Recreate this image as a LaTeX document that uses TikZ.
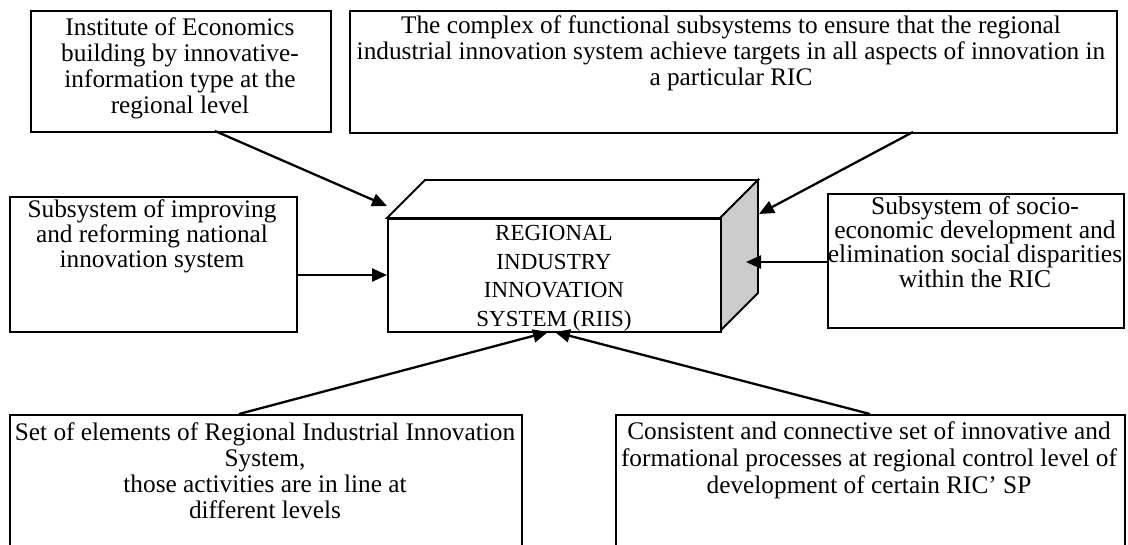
\documentclass[tikz,border=0pt]{standalone}
\usepackage{fontspec}
\setmainfont{Liberation Serif}
\usetikzlibrary{arrows.meta}
\begin{document}
\begin{tikzpicture}[x=1pt,y=-1pt,
  boxnode/.style={draw, line width=1.6pt, inner sep=0pt, anchor=north west},
  txt/.style={anchor=base, align=center, inner sep=0pt},
  conn/.style={line width=2.3pt, -{Triangle[length=15pt,width=13pt]}},
]
\useasboundingbox (0,0) rectangle (1128,544);
\fill[white] (0,0) rectangle (1128,544);
\clip (0,0) rectangle (1128,544);

% boxes
\node[boxnode, minimum width=300pt, minimum height=121pt] (b1) at (30,10) {};
\node[boxnode, minimum width=767pt, minimum height=122pt] (b2) at (349,10) {};
\node[boxnode, minimum width=287pt, minimum height=135pt] (b3) at (9,196) {};
\node[boxnode, minimum width=296pt, minimum height=134pt] (b4) at (827,193) {};
\node[boxnode, minimum width=512pt, minimum height=160pt] (b5) at (9,414) {};
\node[boxnode, minimum width=509pt, minimum height=160pt] (b6) at (615,414) {};

% texts (anchored at the baseline of their last line)
\node[txt, font=\fontsize{25.3}{26}\selectfont] (t1) at (180,113) {Institute of Economics\\building by innovative-\\information type at the\\regional level};
\node[txt, font=\fontsize{25.3}{26}\selectfont] (t2) at (731,85) {The complex of functional subsystems to ensure that the regional\\industrial innovation system achieve targets in all aspects of innovation in\\a particular RIC};
\node[txt, font=\fontsize{25.3}{25}\selectfont] (t3) at (152,267) {Subsystem of improving\\and reforming national\\innovation system};
\node[txt, font=\fontsize{25.6}{22.5}\selectfont] (t4) at (975,287) {Subsystem of socio-\\economic development and\\elimination social disparities\\within the RIC};
\node[txt, font=\fontsize{25.3}{25.7}\selectfont] (t5) at (265,518) {Set of elements of Regional Industrial Innovation\\System,\\those activities are in line at\\different levels};
\node[txt, font=\fontsize{25.3}{27}\selectfont] (t6) at (869,493) {Consistent and connective set of innovative and\\formational processes at regional control level of\\development of certain RIC’ SP};

% central 3D box
\draw[line width=1.8pt, fill=white] (387,218) -- (425,180) -- (758,180) -- (720,218) -- cycle;
\draw[line width=1.8pt, fill=black!20] (720,218) -- (758,180) -- (758,293) -- (720,331) -- cycle;
\node[boxnode, line width=1.8pt, minimum width=333pt, minimum height=113pt, fill=white] (riis) at (387,218) {};
\node[txt, font=\fontsize{23}{28.5}\selectfont] (triis) at (554,326) {REGIONAL\\INDUSTRY\\INNOVATION\\SYSTEM (RIIS)};

% connector end points
\coordinate (s1) at (215,131);  \coordinate (e1) at (387,206);
\coordinate (s2) at (913,132);  \coordinate (e2) at (759,214);
\coordinate (s3) at (296,275);  \coordinate (e3) at (387,275);
\coordinate (s4) at (827,262);  \coordinate (e4) at (746,262);
\coordinate (s5) at (239,414);  \coordinate (e5) at (548,332);
\coordinate (s6) at (870,414);  \coordinate (e6) at (555,332);

\draw[conn] (s1) -- (e1);
\draw[conn] (s2) -- (e2);
\draw[conn] (s3) -- (e3);
\draw[conn] (s4) -- (e4);
\draw[conn] (s5) -- (e5);
\draw[conn] (s6) -- (e6);
\end{tikzpicture}
\end{document}
